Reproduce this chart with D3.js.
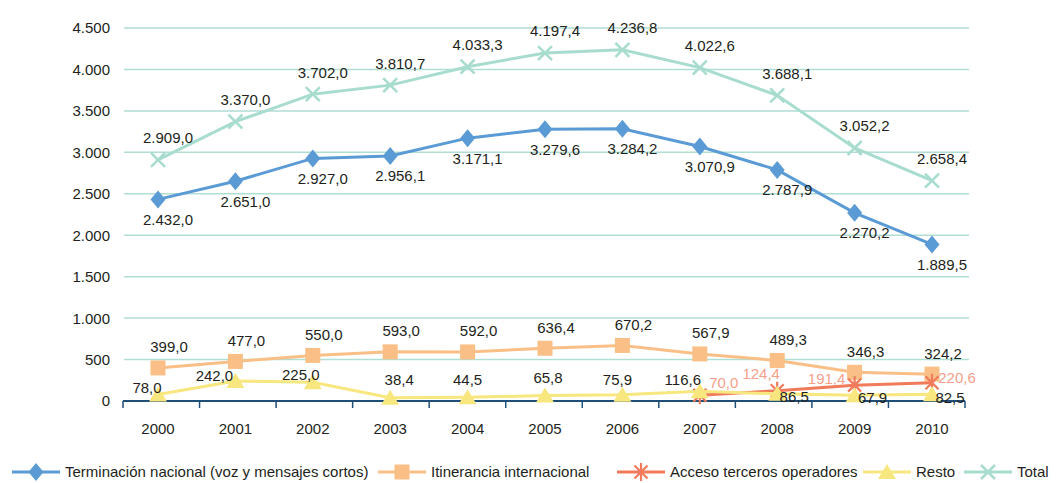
<!DOCTYPE html>
<html lang="es">
<head>
  <meta charset="UTF-8">
  <title>Chart</title>
  <style>
    body { margin: 0; background: #ffffff; }
    #thesvg { width: 1061px; height: 483px; display: block; }
    text { font-family: "Liberation Sans", Arial, sans-serif; font-size: 15px; fill: #231f20; }
  </style>
</head>
<body>
  <script src="https://d3js.org/d3.v7.min.js"></script>
  <svg id="thesvg"></svg>
  <script>

    // data
    var years = ["2000", "2001", "2002", "2003", "2004", "2005", "2006", "2007", "2008", "2009", "2010"];
    var terminacion = [2432.0, 2651.0, 2927.0, 2956.1, 3171.1, 3279.6, 3284.2, 3070.9, 2787.9, 2270.2, 1889.5];
    var itinerancia = [399.0, 477.0, 550.0, 593.0, 592.0, 636.4, 670.2, 567.9, 489.3, 346.3, 324.2];
    var acceso = [null, null, null, null, null, null, null, 70.0, 124.4, 191.4, 220.6];
    var resto = [78.0, 242.0, 225.0, 38.4, 44.5, 65.8, 75.9, 116.6, 86.5, 67.9, 82.5];
    var total = [2909.0, 3370.0, 3702.0, 3810.7, 4033.3, 4197.4, 4236.8, 4022.6, 3688.1, 3052.2, 2658.4];
    var yTicks = [0, 500, 1000, 1500, 2000, 2500, 3000, 3500, 4000, 4500];

    var series = [
      { name: "Terminación nacional (voz y mensajes cortos)", values: terminacion, color: "#5b9bd5", marker: "diamond", labelColor: "#231f20" },
      { name: "Itinerancia internacional", values: itinerancia, color: "#f9bf87", marker: "square", labelColor: "#231f20" },
      { name: "Acceso terceros operadores", values: acceso, color: "#f07a5a", marker: "star", labelColor: "#f5a08a" },
      { name: "Resto", values: resto, color: "#f8e77e", marker: "triangle", labelColor: "#231f20" },
      { name: "Total", values: total, color: "#a8dccf", marker: "x", labelColor: "#231f20" }
    ];

    // label offsets (label centre relative to point), per series
    var labelOffsets = [
      years.map(() => [10, 20]),
      years.map(() => [11, -21]),
      [null, null, null, null, null, null, null, [24, -13], [-16, -17], [-28, -7], [25, -5]],
      [[-11, -7], [-21, -5], [-12, -8], [9, -18], [0, -18], [3, -18], [-5, -15], [-17, -12], [17, 3], [18, 2], [18, 3]],
      years.map(() => [10, -22])
    ];

    var legendX = [12, 378, 617, 863, 964];

    var svg = d3.select("svg");
    var fmt = d3.formatLocale({ decimal: ",", thousands: ".", grouping: [3], currency: ["", "€"] });
    var fmtVal = fmt.format(",.1f");
    var fmtTick = fmt.format(",.0f");

    var plotLeft = 123, plotRight = 965, plotTop = 28, plotBottom = 401;
    var x = d3.scalePoint().domain(years).range([158, 932]);
    var y = d3.scaleLinear().domain([0, 4500]).range([plotBottom, plotTop]);

    // gridlines
    svg.append("g").selectAll("line")
      .data(yTicks.filter(d => d > 0))
      .enter().append("line")
      .attr("x1", plotLeft + 1).attr("x2", plotRight + 4)
      .attr("y1", d => y(d)).attr("y2", d => y(d))
      .attr("stroke", "#b0ddd4").attr("stroke-width", 1.5);

    // y labels
    svg.append("g").selectAll("text")
      .data(yTicks)
      .enter().append("text")
      .attr("x", 110).attr("y", d => y(d)).attr("dy", "0.36em")
      .attr("text-anchor", "end")
      .text(d => fmtTick(d));

    // x axis
    var bounds = d3.range(years.length + 1).map(i => plotLeft + i * (plotRight - plotLeft) / years.length);
    var axis = svg.append("g");
    axis.append("line")
      .attr("x1", plotLeft).attr("x2", plotRight).attr("y1", plotBottom).attr("y2", plotBottom)
      .attr("stroke", "#1f4e79").attr("stroke-width", 2);
    axis.selectAll(".tick")
      .data(bounds)
      .enter().append("line")
      .attr("x1", d => d).attr("x2", d => d).attr("y1", plotBottom).attr("y2", plotBottom + 7)
      .attr("stroke", "#1f4e79").attr("stroke-width", 1.5);
    axis.selectAll(".yr")
      .data(years)
      .enter().append("text")
      .attr("x", d => x(d)).attr("y", 434)
      .attr("text-anchor", "middle")
      .text(d => d);

    function drawMarker(g, type, color) {
      if (type == "diamond") {
        g.append("path").attr("d", "M0,-9L7.5,0L0,9L-7.5,0Z").attr("fill", color);
      } else if (type == "square") {
        g.append("rect").attr("x", -7.5).attr("y", -7.5).attr("width", 15).attr("height", 15).attr("fill", color);
      } else if (type == "triangle") {
        g.append("path").attr("d", "M0,-8L9,7L-9,7Z").attr("fill", color);
      } else if (type == "star") {
        g.append("path").attr("d", "M-6.5,-6.5L6.5,6.5M-6.5,6.5L6.5,-6.5M0,-9L0,9")
          .attr("stroke", color).attr("stroke-width", 2.2).attr("fill", "none");
      } else if (type == "x") {
        g.append("path").attr("d", "M-7,-7L7,7M-7,7L7,-7")
          .attr("stroke", color).attr("stroke-width", 2.6).attr("fill", "none");
      }
    }

    var line = d3.line()
      .defined(d => d != null)
      .x((d, i) => x(years[i]))
      .y(d => y(d));

    series.forEach(function(s) {
      var g = svg.append("g");
      g.append("path")
        .attr("d", line(s.values))
        .attr("fill", "none")
        .attr("stroke", s.color)
        .attr("stroke-width", 3);
      s.values.forEach(function(v, i) {
        if (v == null) return;
        var m = g.append("g").attr("transform", "translate(" + x(years[i]) + "," + y(v) + ")");
        drawMarker(m, s.marker, s.color);
      });
    });

    // value labels
    series.forEach(function(s, si) {
      svg.append("g").selectAll("text")
        .data(s.values.map((v, i) => ({ v: v, i: i })).filter(d => d.v != null))
        .enter().append("text")
        .attr("x", d => x(years[d.i]) + labelOffsets[si][d.i][0])
        .attr("y", d => y(d.v) + labelOffsets[si][d.i][1])
        .attr("dy", "0.36em")
        .attr("text-anchor", "middle")
        .style("fill", s.labelColor)
        .text(d => fmtVal(d.v));
    });

    // legend
    var legend = svg.append("g").attr("transform", "translate(0,472)");
    series.forEach(function(s, i) {
      var lg = legend.append("g").attr("transform", "translate(" + legendX[i] + ",0)");
      lg.append("line").attr("x1", 0).attr("x2", 48).attr("y1", 0).attr("y2", 0)
        .attr("stroke", s.color).attr("stroke-width", 3);
      drawMarker(lg.append("g").attr("transform", "translate(24,0)"), s.marker, s.color);
      lg.append("text").attr("x", 53).attr("y", 0).attr("dy", "0.36em").text(s.name);
    });
  </script>
</body>
</html>
